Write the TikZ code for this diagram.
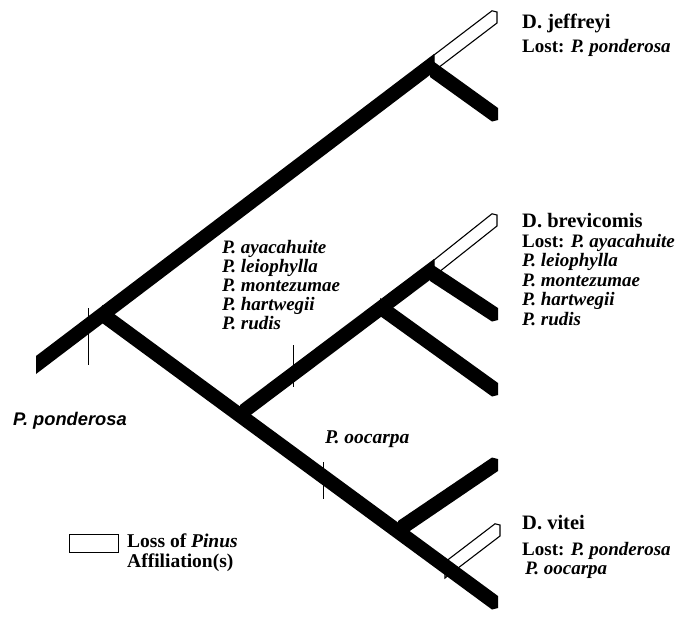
\documentclass[tikz,border=0pt]{standalone}
\usepackage{fontspec}
\setmainfont{Liberation Serif}
\newfontfamily\hsans{Liberation Sans}
% black bar, plain vertical cut at both ends
\newcommand\blkbar[2]{\fill[black] ([yshift=9pt]#1) -- ([yshift=9pt]#2) -- ([yshift=-9pt]#2) -- ([yshift=-9pt]#1) -- cycle;}
% black bar going down to the right, chamfered free end
\newcommand\blkdown[2]{\fill[black] ([yshift=9pt]#1) -- ([yshift=9pt]#2) -- ([yshift=-3pt]#2) -- ([xshift=-6pt,yshift=-4.5pt]#2) -- ([yshift=-9pt]#1) -- cycle;}
% black bar going up to the right, chamfered free end
\newcommand\blkup[2]{\fill[black] ([yshift=9pt]#1) -- ([xshift=-6pt,yshift=4.5pt]#2) -- ([yshift=3pt]#2) -- ([yshift=-9pt]#2) -- ([yshift=-9pt]#1) -- cycle;}
% white (loss) bar going up to the right, chamfered free end
\newcommand\whtup[2]{\filldraw[fill=white,draw=black,line width=1.1pt,line join=miter] ([yshift=8pt]#1) -- ([xshift=-5pt,yshift=4.2pt]#2) -- ([yshift=3pt]#2) -- ([yshift=-8pt]#2) -- ([yshift=-8pt]#1) -- cycle;}
\begin{document}
\begin{tikzpicture}[x=1pt,y=-1pt,
  ttl/.style={anchor=base west,inner sep=0pt,font=\fontsize{20.5}{22}\selectfont\bfseries},
  txt/.style={anchor=base west,inner sep=0pt,font=\fontsize{19}{19}\selectfont\bfseries},
  itx/.style={anchor=base west,inner sep=0pt,font=\fontsize{19}{19}\selectfont\bfseries\itshape},
  lgt/.style={anchor=base west,inner sep=0pt,font=\fontsize{19.5}{20}\selectfont\bfseries},
  tickln/.style={line width=1pt}]
\useasboundingbox (0,0) rectangle (699,618);
% coordinates
\coordinate (L0) at (36,365);
\coordinate (A) at (102,314);
\coordinate (J) at (434,63);
\coordinate (Jb) at (430,68);
\coordinate (Jt) at (497,15);
\coordinate (Je) at (498,117);
\coordinate (E) at (498,605);
\coordinate (B) at (240,414);
\coordinate (C) at (380,307);
\coordinate (Ce) at (498,392);
\coordinate (D) at (434,268);
\coordinate (Db) at (430,272);
\coordinate (Dt) at (497,218);
\coordinate (De) at (498,317);
\coordinate (V) at (398,530);
\coordinate (Ve) at (498,462);
\coordinate (Vw) at (445,570);
\coordinate (Vt) at (500,528);
% white bars (losses)
\whtup{J}{Jt}
\whtup{D}{Dt}
\whtup{Vw}{Vt}
% black bars
\blkbar{L0}{J}
\blkdown{Jb}{Je}
\blkdown{A}{E}
\blkbar{B}{D}
\blkdown{C}{Ce}
\blkdown{Db}{De}
\blkup{V}{Ve}
% ticks
\coordinate (t1a) at (88,308); \coordinate (t1b) at (88,365);
\coordinate (t2a) at (293,345); \coordinate (t2b) at (293,387);
\coordinate (t3a) at (323,462); \coordinate (t3b) at (323,499);
\draw[tickln] (t1a) -- (t1b);
\draw[tickln] (t2a) -- (t2b);
\draw[tickln] (t3a) -- (t3b);
% labels
\node[ttl] (tj) at (522,29) {D. jeffreyi};
\node[txt] (lj) at (522,53) {Lost: \textit{P. ponderosa}};
\node[ttl] (tb) at (522,227) {D. brevicomis};
\node[txt] (lb1) at (522,247) {Lost: \textit{P. ayacahuite}};
\node[itx] (lb2) at (522,266.5) {P. leiophylla};
\node[itx] (lb3) at (522,286) {P. montezumae};
\node[itx] (lb4) at (522,305.5) {P. hartwegii};
\node[itx] (lb5) at (522,325) {P. rudis};
\node[ttl] (tv) at (522,529) {D. vitei};
\node[txt] (lv1) at (522,555) {Lost: \textit{P. ponderosa}};
\node[itx] (lv2) at (525,574) {P. oocarpa};
\node[itx] (m1) at (222,253) {P. ayacahuite};
\node[itx] (m2) at (222,272) {P. leiophylla};
\node[itx] (m3) at (222,291) {P. montezumae};
\node[itx] (m4) at (222,310) {P. hartwegii};
\node[itx] (m5) at (222,329) {P. rudis};
\node[anchor=base west,inner sep=0pt,font=\fontsize{19.5}{20}\selectfont\bfseries\itshape] (oo) at (325,443) {P. oocarpa};
\node[anchor=base west,inner sep=0pt,font=\hsans\fontsize{18.3}{19}\selectfont\bfseries\itshape] (pp) at (13,425) {P. ponderosa};
% legend
\node[draw,line width=1pt,minimum width=49pt,minimum height=18pt,inner sep=0pt] (leg) at (93.5,543) {};
\node[lgt] (lg1) at (127,547) {Loss of \textit{Pinus}};
\node[lgt] (lg2) at (127,567) {Affiliation(s)};
\end{tikzpicture}
\end{document}
